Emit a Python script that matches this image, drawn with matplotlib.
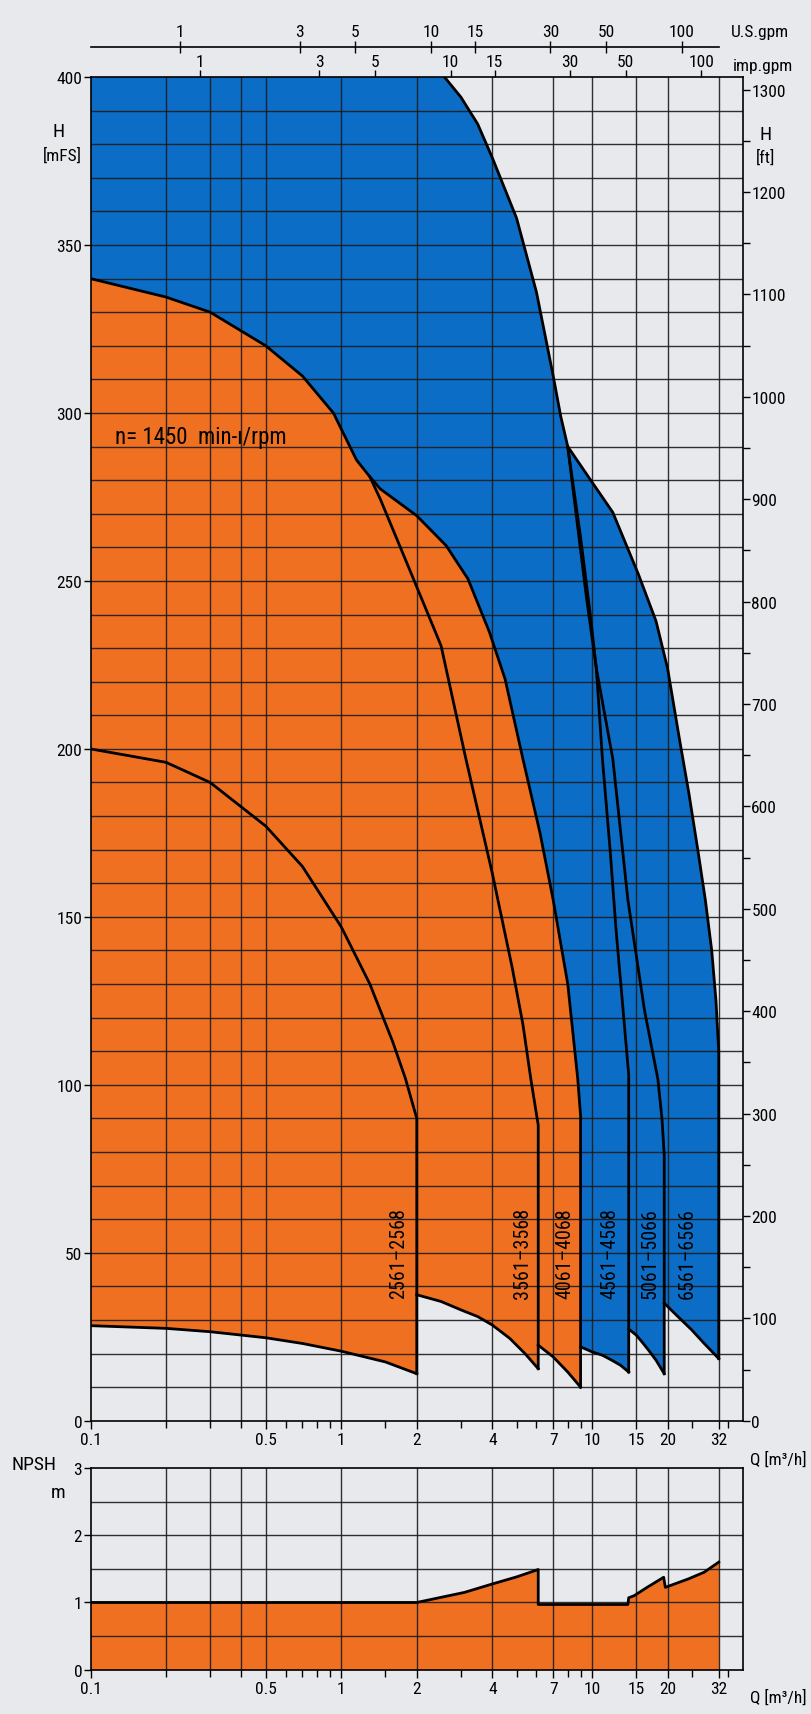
import numpy as np
import matplotlib
matplotlib.use('Agg')
import matplotlib.pyplot as plt
from matplotlib.ticker import FixedLocator, NullFormatter, FixedFormatter
from matplotlib import font_manager

names = {f.name for f in font_manager.fontManager.ttflist}
fams = [f for f in ['Roboto Condensed', 'Liberation Sans Narrow', 'Roboto', 'DejaVu Sans'] if f in names]
plt.rcParams['font.family'] = fams

# ---------------- data (Q in m3/h, H in m) ----------------
orange_top_q = [0.1, 0.2, 0.3, 0.5, 0.7, 0.93, 1.15, 1.3]
orange_top_h = [340, 334.5, 330, 320, 311, 300, 286, 281]
max4068_q = [1.3, 1.43, 2.0, 2.62, 3.2, 3.9, 4.5, 5.3, 6.2, 7.0, 8.0, 8.77, 9.0]
max4068_h = [281, 277.4, 269.4, 260.5, 250.6, 234.7, 220.8, 197, 175, 155, 130, 101.7, 90.8]
max3568_q = [1.3, 1.43, 1.94, 2.5, 3.14, 4.0, 4.8, 5.3, 5.7, 6.1]
max3568_h = [281, 274.4, 250.6, 230.7, 197, 163, 135, 118, 101.7, 88]
max2568_q = [0.1, 0.2, 0.3, 0.5, 0.7, 1.0, 1.3, 1.6, 1.8, 2.0]
max2568_h = [200, 196, 190, 177, 165, 147, 130, 113, 102, 90]
blue_top_q = [0.1, 2.58, 3.0, 3.5, 4.0, 5.0, 6.0, 7.0, 7.5, 8.0]
blue_top_h = [400, 400, 394, 386, 376, 358, 336, 311, 299, 290]
max6566_q = [8.0, 10.0, 12.1, 15.3, 18.0, 20.0, 22.3, 24.3, 26.4, 28.3, 30.0, 31.2, 32.0]
max6566_h = [290, 279.4, 270.4, 252, 238, 224, 203, 187, 170, 155, 140, 125, 110]
max4568_q = [8.0, 9.0, 9.8, 10.4, 11.0, 11.8, 12.5, 13.2, 14.0]
max4568_h = [290, 263, 241, 224, 197, 170, 145, 125, 103]
max5066_q = [8.0, 8.7, 9.5, 10.4, 12.1, 13.9, 16.2, 18.3, 19.0, 19.4]
max5066_h = [290, 268, 245, 224, 197, 155, 122, 101.7, 90, 79]
min2561_q = [0.1, 0.2, 0.3, 0.5, 0.7, 1.0, 1.5, 2.0]
min2561_h = [28.3, 27.5, 26.5, 24.7, 23, 20.7, 17.5, 14]
min3561_q = [2.0, 2.5, 3.0, 3.5, 4.0, 4.7, 5.4, 6.1]
min3561_h = [37.5, 35.5, 33, 31, 28.5, 24.5, 20, 15.5]
min4061_q = [6.1, 7.0, 8.0, 9.0]
min4061_h = [22.5, 19, 14.5, 10]
min4561_q = [9.0, 10.0, 11.0, 12.0, 13.0, 14.0]
min4561_h = [22, 20.5, 19.5, 18, 16.5, 14.5]
min5061_q = [14.0, 15.0, 16.0, 17.0, 18.0, 19.4]
min5061_h = [27.3, 25.5, 23, 20.5, 18, 14]
min6561_q = [19.4, 22.0, 25.0, 28.0, 32.0]
min6561_h = [35, 31, 27, 23, 18.5]

model_labels = ['2561–2568', '3561–3568', '4061–4068', '4561–4568', '5061–5066', '6561–6566']
label_q = [1.7, 5.3, 7.8, 11.8, 17.0, 24.0]
label_h = [50, 50, 50, 50, 50, 50]

npsh_q = [0.1, 2.0, 3.1, 4.0, 5.0, 6.1, 6.1, 13.9, 14.0, 14.7, 16.5, 19.3, 19.6, 24.2, 28.0, 32.0]
npsh_h = [1.0, 1.0, 1.15, 1.275, 1.38, 1.49, 0.97, 0.97, 1.07, 1.1, 1.22, 1.375, 1.225, 1.35, 1.45, 1.6]

x_major = [0.1, 0.5, 1, 2, 4, 7, 10, 15, 20, 32]
x_major_lbl = ['0.1', '0.5', '1', '2', '4', '7', '10', '15', '20', '32']
x_minor = [0.2, 0.3, 0.4, 0.6, 0.7, 0.8, 0.9, 1.5, 3, 5, 6, 8, 9, 25, 35]
x_grid = [0.2, 0.3, 0.4, 0.5, 1, 2, 4, 7, 10, 15, 20, 32]
gpm_ticks = [1, 3, 5, 10, 15, 30, 50, 100]

M3H_TO_USGPM = 4.4029
M3H_TO_IMPGPM = 3.6662
M_TO_FT = 3.28084

ORANGE = '#F07022'
BLUE = '#0B6DC6'
BG = '#E7E9EC'
GRID = '#1c1c1c'
FS = 12.5

fig = plt.figure(figsize=(8.11, 17.15), dpi=100, facecolor=BG)

ax = fig.add_axes([0.1116, 0.1710, 0.8046, 0.7835])
ax.set_facecolor(BG)
ax.set_xscale('log')
ax.set_xlim(0.1, 40)
ax.set_ylim(0, 400)

oq = orange_top_q + max4068_q[1:] + min4061_q[::-1] + min3561_q[::-1] + min2561_q[::-1]
oh = orange_top_h + max4068_h[1:] + min4061_h[::-1] + min3561_h[::-1] + min2561_h[::-1]
ax.fill(oq, oh, color=ORANGE, lw=0, zorder=1)

bq = (blue_top_q + max6566_q[1:] + min6561_q[::-1] + min5061_q[::-1] + min4561_q[::-1]
      + max4068_q[::-1] + orange_top_q[::-1])
bh = (blue_top_h + max6566_h[1:] + min6561_h[::-1] + min5061_h[::-1] + min4561_h[::-1]
      + max4068_h[::-1] + orange_top_h[::-1])
ax.fill(bq, bh, color=BLUE, lw=0, zorder=1)

GLW = 1.0
for g in x_grid:
    ax.axvline(g, color=GRID, lw=GLW, alpha=0.9, zorder=3)
for h in range(10, 400, 10):
    ax.axhline(h, color=GRID, lw=GLW, alpha=0.9, zorder=3)

LW = 2.0
def curve(q, h, end_low=None):
    qq = list(q)
    hh = list(h)
    if end_low is not None:
        qq.append(q[-1])
        hh.append(end_low)
    ax.plot(qq, hh, color='black', lw=LW, zorder=4, solid_joinstyle='round')

curve(orange_top_q + max4068_q[1:], orange_top_h + max4068_h[1:], min4061_h[-1])
curve(max3568_q, max3568_h, min3561_h[-1])
curve(max2568_q, max2568_h, min2561_h[-1])
curve(blue_top_q[1:] + max6566_q[1:], blue_top_h[1:] + max6566_h[1:], min6561_h[-1])
curve(max4568_q, max4568_h, min4561_h[-1])
curve(max5066_q, max5066_h, min5061_h[-1])
for q, h in [(min2561_q, min2561_h), (min3561_q, min3561_h), (min4061_q, min4061_h),
             (min4561_q, min4561_h), (min5061_q, min5061_h), (min6561_q, min6561_h)]:
    curve(q, h)

for txt, q, h in zip(model_labels, label_q, label_h):
    ax.text(q, h, txt, rotation=90, ha='center', va='center', fontsize=14.5, zorder=5)

ax.text(0.125, 293, 'n= 1450  min-ı/rpm', fontsize=16.5, ha='left', va='center', zorder=5)

ax.xaxis.set_major_locator(FixedLocator(x_major))
ax.xaxis.set_major_formatter(FixedFormatter(x_major_lbl))
ax.xaxis.set_minor_locator(FixedLocator(x_minor))
ax.xaxis.set_minor_formatter(NullFormatter())
ax.tick_params(axis='x', which='major', direction='out', length=6, width=1, labelsize=FS, pad=2)
ax.tick_params(axis='x', which='minor', direction='out', length=5, width=1)
ax.yaxis.set_major_locator(FixedLocator(list(range(0, 401, 50))))
ax.yaxis.set_minor_locator(FixedLocator([]))
ax.tick_params(axis='y', direction='out', length=5, width=1, labelsize=FS, pad=1)
for s in ax.spines.values():
    s.set_linewidth(1.2)
    s.set_zorder(6)

sec = ax.secondary_xaxis('top', functions=(lambda q: q * M3H_TO_IMPGPM, lambda g: g / M3H_TO_IMPGPM))
sec.xaxis.set_major_locator(FixedLocator(gpm_ticks))
sec.xaxis.set_major_formatter(FixedFormatter([str(t) for t in gpm_ticks]))
sec.xaxis.set_minor_locator(FixedLocator([]))
sec.tick_params(direction='out', length=5, width=1, labelsize=FS, pad=1)
sec.spines['top'].set_visible(False)

secy = ax.secondary_yaxis('right', functions=(lambda m: m * M_TO_FT, lambda f: f / M_TO_FT))
secy.yaxis.set_major_locator(FixedLocator(list(range(0, 1301, 50))))
secy.yaxis.set_major_formatter(FixedFormatter([str(v) if v % 100 == 0 else '' for v in range(0, 1301, 50)]))
secy.yaxis.set_minor_locator(FixedLocator([]))
secy.tick_params(direction='out', length=5, width=1, labelsize=FS, pad=1)
secy.spines['right'].set_visible(False)

axu = fig.add_axes([0.1116, 0.9715, 0.7750, 0.0005])
axu.set_xscale('log')
axu.set_xlim(0.1 * M3H_TO_USGPM, 32 * M3H_TO_USGPM)
axu.patch.set_visible(False)
for k in ['left', 'right', 'bottom']:
    axu.spines[k].set_visible(False)
axu.spines['top'].set_linewidth(1.2)
axu.set_yticks([])
axu.xaxis.tick_top()
axu.xaxis.set_major_locator(FixedLocator(gpm_ticks))
axu.xaxis.set_major_formatter(FixedFormatter([str(t) for t in gpm_ticks]))
axu.xaxis.set_minor_locator(FixedLocator([]))
axu.tick_params(axis='x', direction='inout', length=8, width=1, labelsize=FS, pad=2)

fig.text(731 / 811, 1 - 32 / 1715, 'U.S.gpm', fontsize=FS, ha='left', va='center')
fig.text(733 / 811, 1 - 66 / 1715, 'imp.gpm', fontsize=FS, ha='left', va='center')
fig.text(59 / 811, 1 - 132 / 1715, 'H', fontsize=14, ha='center', va='center')
fig.text(62 / 811, 1 - 156 / 1715, '[mFS]', fontsize=FS, ha='center', va='center')
fig.text(766 / 811, 1 - 135 / 1715, 'H', fontsize=14, ha='center', va='center')
fig.text(766 / 811, 1 - 158 / 1715, '[ft]', fontsize=FS, ha='center', va='center')
fig.text(807 / 811, 1 - 1460 / 1715, 'Q [m³/h]', fontsize=12.5, ha='right', va='center')
fig.text(807 / 811, 1 - 1698 / 1715, 'Q [m³/h]', fontsize=12.5, ha='right', va='center')
fig.text(34 / 811, 1 - 1465 / 1715, 'NPSH', fontsize=14, ha='center', va='center')
fig.text(58 / 811, 1 - 1493 / 1715, 'm', fontsize=14, ha='center', va='center')

axn = fig.add_axes([0.1116, 0.02583, 0.8046, 0.11761])
axn.set_facecolor(BG)
axn.set_xscale('log')
axn.set_xlim(0.1, 40)
axn.set_ylim(0, 3)
axn.fill_between(npsh_q, 0, npsh_h, color=ORANGE, lw=0, zorder=1)
for g in x_grid:
    axn.axvline(g, color=GRID, lw=GLW, alpha=0.9, zorder=3)
for h in [0.5, 1, 1.5, 2, 2.5]:
    axn.axhline(h, color=GRID, lw=GLW, alpha=0.9, zorder=3)
axn.plot(npsh_q, npsh_h, color='black', lw=LW, zorder=4)
axn.xaxis.set_major_locator(FixedLocator(x_major))
axn.xaxis.set_major_formatter(FixedFormatter(x_major_lbl))
axn.xaxis.set_minor_locator(FixedLocator(x_minor))
axn.xaxis.set_minor_formatter(NullFormatter())
axn.tick_params(axis='x', which='major', direction='out', length=6, width=1, labelsize=FS, pad=2)
axn.tick_params(axis='x', which='minor', direction='out', length=5, width=1)
axn.yaxis.set_major_locator(FixedLocator([0, 1, 2, 3]))
axn.yaxis.set_minor_locator(FixedLocator([]))
axn.tick_params(axis='y', direction='out', length=5, width=1, labelsize=FS, pad=1)
for s in axn.spines.values():
    s.set_linewidth(1.2)
    s.set_zorder(6)

fig.savefig('out.png', dpi=100, facecolor=BG)
